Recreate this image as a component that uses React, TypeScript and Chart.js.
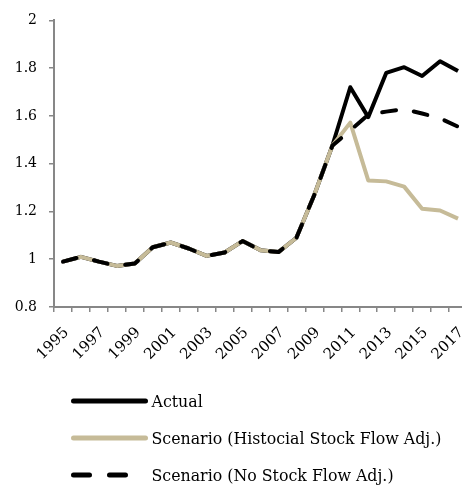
import React, { useEffect, useRef } from "react";
import { Chart, registerables } from "chart.js";

Chart.register(...registerables);

const YEARS = [
  "1995", "1996", "1997", "1998", "1999", "2000", "2001", "2002", "2003", "2004",
  "2005", "2006", "2007", "2008", "2009", "2010", "2011", "2012", "2013", "2014",
  "2015", "2016", "2017",
];

const ACTUAL = [
  0.99, 1.01, 0.99, 0.972, 0.982, 1.05, 1.07, 1.045, 1.014, 1.028,
  1.076, 1.038, 1.03, 1.09, 1.27, 1.475, 1.72, 1.595, 1.78, 1.804,
  1.767, 1.829, 1.788,
];

const HIST_SCENARIO = [
  0.99, 1.01, 0.99, 0.972, 0.982, 1.05, 1.07, 1.045, 1.014, 1.028,
  1.076, 1.038, 1.03, 1.09, 1.27, 1.475, 1.572, 1.33, 1.326, 1.304,
  1.211, 1.204, 1.17,
];

const NO_SFA_SCENARIO = [
  0.99, 1.01, 0.99, 0.972, 0.982, 1.05, 1.07, 1.045, 1.014, 1.028,
  1.076, 1.038, 1.03, 1.09, 1.27, 1.475, 1.54, 1.605, 1.618, 1.628,
  1.61, 1.59, 1.555,
];

const SERIES_LABELS = [
  "Actual",
  "Scenario (Histocial Stock Flow Adj.)",
  "Scenario (No Stock Flow Adj.)",
];

const Y_MIN = 0.8;
const Y_MAX = 2;
const Y_STEP = 0.2;

const BLACK = "#000000";
const TAN = "#c6bb98";
const AXIS_GRAY = "#878787";
const FONT_FAMILY = "'DejaVu Serif', serif";

const legendPlugin = {
  id: "customLegend",
  afterDraw(chart: any) {
    const ctx = chart.ctx as CanvasRenderingContext2D;
    const { left, bottom } = chart.chartArea;
    const x0 = left + 19.5;
    const lineLen = 72;
    chart.data.datasets.forEach((ds: any, i: number) => {
      const y = bottom + 94 + i * 37;
      const dashed = ds.borderDash && ds.borderDash.length > 0;
      ctx.save();
      ctx.strokeStyle = ds.borderColor;
      ctx.lineWidth = 5;
      ctx.lineCap = "round";
      ctx.setLineDash(dashed ? [16, 20] : []);
      ctx.beginPath();
      ctx.moveTo(x0, y);
      ctx.lineTo(x0 + (dashed ? 55 : lineLen), y);
      ctx.stroke();
      ctx.setLineDash([]);
      ctx.fillStyle = "#000";
      ctx.font = `15.8px ${FONT_FAMILY}`;
      ctx.textBaseline = "alphabetic";
      ctx.textAlign = "left";
      ctx.fillText(ds.label, x0 + lineLen + 6, y + 6);
      ctx.restore();
    });
  },
};

export default function App() {
  const canvasRef = useRef<HTMLCanvasElement | null>(null);

  useEffect(() => {
    const canvas = canvasRef.current;
    if (!canvas) return;
    const chart = new Chart(canvas, {
      type: "line",
      data: {
        labels: YEARS,
        datasets: [
          {
            label: SERIES_LABELS[0],
            data: ACTUAL,
            borderColor: BLACK,
            borderWidth: 4,
            pointRadius: 0,
            borderJoinStyle: "round",
            order: 3,
          },
          {
            label: SERIES_LABELS[1],
            data: HIST_SCENARIO,
            borderColor: TAN,
            borderWidth: 4,
            pointRadius: 0,
            borderJoinStyle: "round",
            order: 2,
          },
          {
            label: SERIES_LABELS[2],
            data: NO_SFA_SCENARIO,
            borderColor: BLACK,
            borderWidth: 4,
            borderDash: [14, 18],
            borderCapStyle: "round",
            pointRadius: 0,
            borderJoinStyle: "round",
            order: 1,
          },
        ],
      },
      options: {
        responsive: false,
        animation: false,
        devicePixelRatio: 1,
        layout: { padding: { top: 19, right: 3, bottom: 119, left: 0 } },
        plugins: {
          legend: { display: false },
          tooltip: { enabled: false },
        },
        scales: {
          x: {
            type: "category",
            offset: true,
            grid: {
              offset: true,
              drawOnChartArea: false,
              drawTicks: true,
              tickLength: 5,
              color: AXIS_GRAY,
              lineWidth: 1.5,
            },
            border: { color: AXIS_GRAY, width: 2 },
            ticks: {
              autoSkip: false,
              maxRotation: 45,
              minRotation: 45,
              padding: 12,
              labelOffset: 3.5,
              color: "#000",
              font: { family: FONT_FAMILY, size: 15 },
              callback: (_v: any, idx: number) => (idx % 2 === 0 ? YEARS[idx] : ""),
            },
            afterFit: (scale: any) => {
              scale.height = 60;
              scale.paddingLeft = 0;
              scale.paddingRight = 0;
            },
          },
          y: {
            min: Y_MIN,
            max: Y_MAX,
            grid: {
              drawOnChartArea: false,
              drawTicks: true,
              tickLength: 5,
              color: AXIS_GRAY,
              lineWidth: 1.5,
            },
            border: { color: AXIS_GRAY, width: 2 },
            ticks: {
              stepSize: Y_STEP,
              padding: 12,
              color: "#000",
              font: { family: FONT_FAMILY, size: 14 },
              callback: (v: any) => String(Number(Number(v).toFixed(1))),
            },
            afterFit: (scale: any) => {
              scale.width = 54;
            },
          },
        },
      },
      plugins: [legendPlugin],
    });
    return () => chart.destroy();
  }, []);

  return (
    <div
      style={{
        position: "fixed",
        left: 0,
        top: 0,
        width: 462,
        height: 486,
        overflow: "hidden",
        background: "#fff",
      }}
    >
      <canvas ref={canvasRef} width={470} height={486} style={{ display: "block" }} />
    </div>
  );
}
